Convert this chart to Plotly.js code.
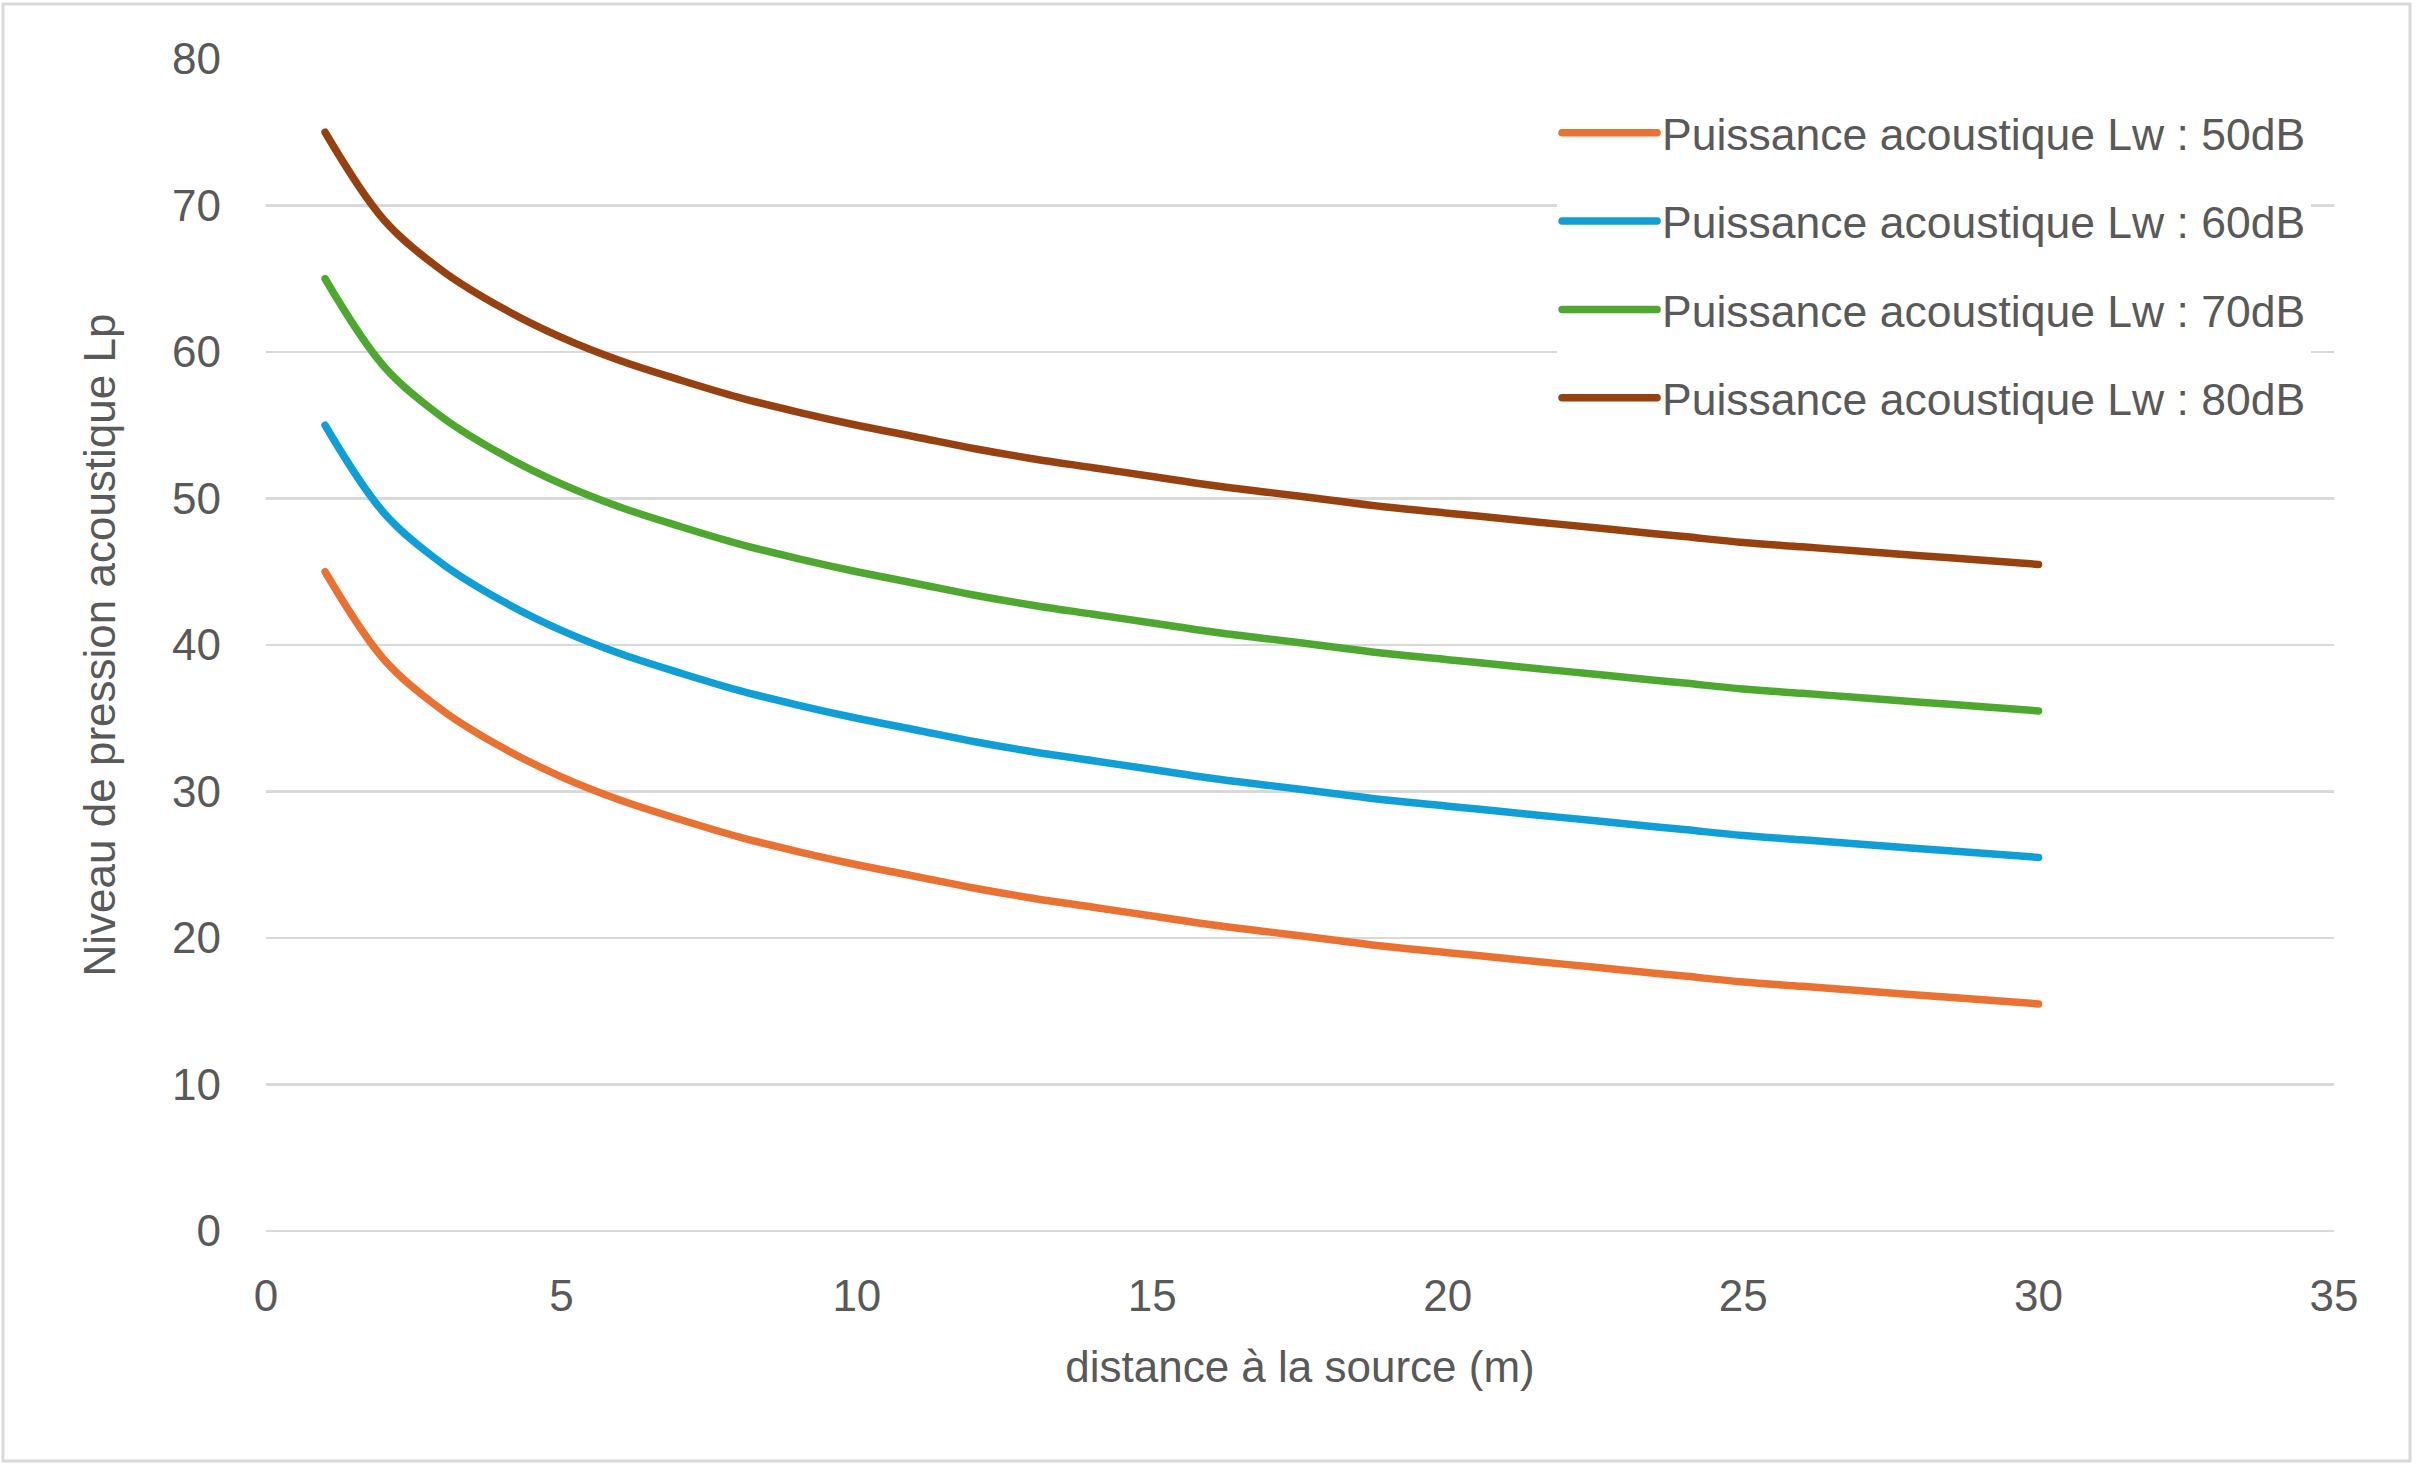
<!DOCTYPE html>
<html>
<head>
<meta charset="utf-8">
<script src="https://cdn.plot.ly/plotly-3.0.1.min.js"></script>
<style>
  html, body { margin: 0; padding: 0; background: #ffffff; }
  #chart { width: 2420px; height: 1471px; }
  #chart .scatterlayer path.js-line { stroke-linecap: round; stroke-linejoin: round; }
  #chart .legend path.js-line { stroke-linecap: round; }
</style>
</head>
<body>
<div id="chart"></div>
<script>
// distance à la source (m)
const distance = [1, 2, 3, 4, 5, 6, 7, 8, 9, 10, 11, 12, 13, 14, 15, 16, 17, 18, 19, 20, 21, 22, 23, 24, 25, 26, 27, 28, 29, 30];

// Niveau de pression acoustique Lp
const lp50 = [45.0, 39.0, 35.5, 33.0, 31.0, 29.4, 28.1, 26.9, 25.9, 25.0, 24.2, 23.4, 22.7, 22.1, 21.5, 20.9, 20.4, 19.9, 19.4, 19.0, 18.6, 18.2, 17.8, 17.4, 17.0, 16.7, 16.4, 16.1, 15.8, 15.5];
const lp60 = [55.0, 49.0, 45.5, 43.0, 41.0, 39.4, 38.1, 36.9, 35.9, 35.0, 34.2, 33.4, 32.7, 32.1, 31.5, 30.9, 30.4, 29.9, 29.4, 29.0, 28.6, 28.2, 27.8, 27.4, 27.0, 26.7, 26.4, 26.1, 25.8, 25.5];
const lp70 = [65.0, 59.0, 55.5, 53.0, 51.0, 49.4, 48.1, 46.9, 45.9, 45.0, 44.2, 43.4, 42.7, 42.1, 41.5, 40.9, 40.4, 39.9, 39.4, 39.0, 38.6, 38.2, 37.8, 37.4, 37.0, 36.7, 36.4, 36.1, 35.8, 35.5];
const lp80 = [75.0, 69.0, 65.5, 63.0, 61.0, 59.4, 58.1, 56.9, 55.9, 55.0, 54.2, 53.4, 52.7, 52.1, 51.5, 50.9, 50.4, 49.9, 49.4, 49.0, 48.6, 48.2, 47.8, 47.4, 47.0, 46.7, 46.4, 46.1, 45.8, 45.5];

const seriesNames = [
  "Puissance acoustique Lw : 50dB",
  "Puissance acoustique Lw : 60dB",
  "Puissance acoustique Lw : 70dB",
  "Puissance acoustique Lw : 80dB"
];
const seriesValues = [lp50, lp60, lp70, lp80];
const seriesColors = ["#E97132", "#0F9ED5", "#4EA72E", "#974010"];

const xTitle = "distance à la source (m)";
const yTitle = "Niveau de pression acoustique Lp";

const FONT = "'Liberation Sans', Arial, sans-serif";
const GREY = "#595959";

const traces = seriesValues.map((vals, i) => ({
  type: "scatter",
  mode: "lines",
  x: distance,
  y: vals,
  name: seriesNames[i],
  legendgroup: "g" + i,
  line: { color: seriesColors[i], width: 7.5, shape: "spline", smoothing: 1 },
  hoverinfo: "x+y+name"
}));

const layout = {
  width: 2420,
  height: 1471,
  margin: { l: 266, r: 86, t: 59, b: 240 },
  paper_bgcolor: "#ffffff",
  plot_bgcolor: "#ffffff",
  font: { family: FONT, color: GREY, size: 44 },
  showlegend: true,
  legend: {
    x: 0.6243, xanchor: "left",
    y: 0.9673, yanchor: "top",
    bgcolor: "#ffffff",
    borderwidth: 0,
    font: { family: FONT, size: 44.5, color: GREY },
    tracegroupgap: 27.5,
    itemwidth: 95
  },
  xaxis: {
    range: [0, 35],
    dtick: 5,
    tick0: 0,
    showgrid: false,
    zeroline: false,
    showline: false,
    ticks: "",
    ticklabelstandoff: 35,
    tickfont: { family: FONT, size: 44, color: GREY },
    title: { text: xTitle, font: { family: FONT, size: 44, color: GREY }, standoff: 32 },
    fixedrange: true
  },
  yaxis: {
    range: [0, 80],
    dtick: 10,
    tick0: 0,
    showgrid: true,
    gridcolor: "#d9d9d9",
    gridwidth: 2.5,
    zeroline: true,
    zerolinecolor: "#d9d9d9",
    zerolinewidth: 2.5,
    showline: false,
    ticks: "",
    ticklabelstandoff: 44,
    tickfont: { family: FONT, size: 44, color: GREY },
    title: { text: yTitle, font: { family: FONT, size: 44, color: GREY }, standoff: 42 },
    fixedrange: true
  },
  shapes: [{
    type: "rect",
    xref: "paper", yref: "paper",
    x0: (3 - 266) / 2068, x1: (2410 - 266) / 2068,
    y0: -(1461 - 1231) / 1172, y1: 1 + (59 - 4) / 1172,
    line: { color: "#d9d9d9", width: 3 },
    fillcolor: "rgba(0,0,0,0)",
    layer: "below"
  }]
};

Plotly.newPlot("chart", traces, layout, { displayModeBar: false, staticPlot: true });
</script>
</body>
</html>
